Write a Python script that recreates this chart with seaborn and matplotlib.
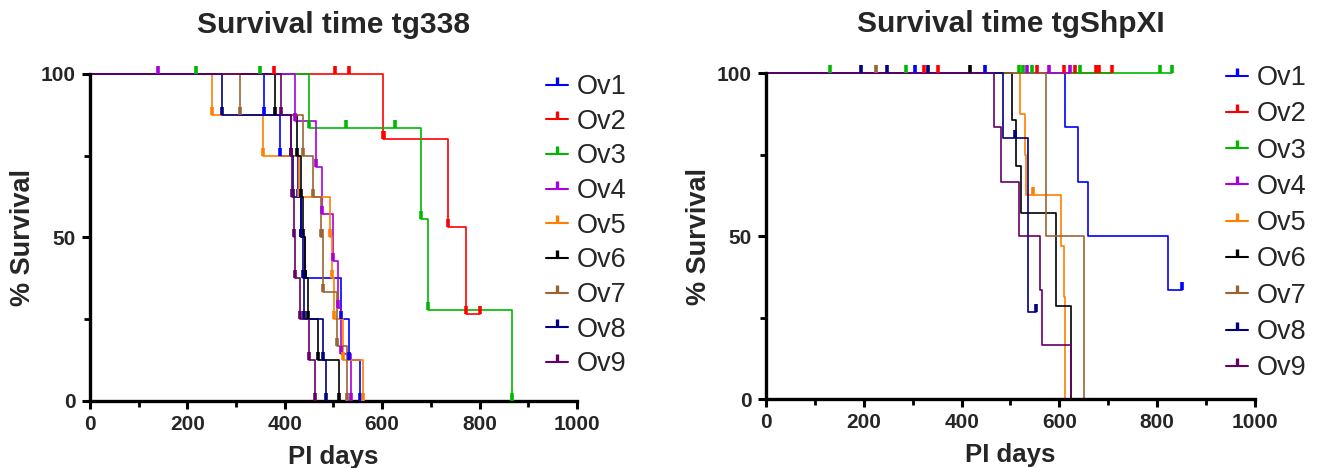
import numpy as np
import pandas as pd
import matplotlib
matplotlib.use("Agg")
import matplotlib.pyplot as plt
from matplotlib.lines import Line2D
import seaborn as sns

# ---------------- data ----------------
SERIES = ["Ov1", "Ov2", "Ov3", "Ov4", "Ov5", "Ov6", "Ov7", "Ov8", "Ov9"]
COLORS = ["#0000FF", "#FF0000", "#00B800", "#AA00DD", "#FF8000",
          "#000000", "#996633", "#000080", "#660066"]

# tg338 : death times (days) and censored times (days) per series
tg338_events = [
    [358, 391, 428, 434, 441, 515, 532, 554],
    [602, 736, 773],
    [450, 680, 695, 866],
    [422, 464, 477, 500, 510, 515, 537],
    [250, 356, 430, 493, 497, 502, 519, 561],
    [379, 425, 433, 438, 442, 448, 469, 512],
    [308, 437, 457, 474, 478, 508, 527],
    [271, 412, 416, 433, 437, 440, 478, 485],
    [392, 412, 414, 418, 422, 431, 450, 462],
]
tg338_censored = [
    [],
    [378, 504, 531, 603, 800],
    [217, 349, 526, 626],
    [140],
    [],
    [],
    [476],
    [],
    [],
]

# tgShpXI
shp_events = [
    [611, 638, 659, 822],
    [],
    [],
    [],
    [520, 529, 532, 604, 609, 611, 611],
    [504, 512, 522, 594, 594, 624, 624],
    [572, 650],
    [485, 535, 535],
    [466, 481, 518, 561, 565, 624],
]
shp_censored = [
    [305, 448, 850, 850],
    [323, 351, 554, 609, 631, 675, 681, 707],
    [131, 286, 518, 526, 545, 643, 805, 830],
    [533, 578, 622],
    [546],
    [418],
    [224],
    [195, 247, 332, 510, 553],
    [],
]

TITLES = ["Survival time tg338", "Survival time tgShpXI"]
XTICKS = [0, 200, 400, 600, 800, 1000]
YTICKS = [0, 50, 100]


def km(events, cens, event_marks):
    times = sorted(set(events) | set(cens))
    at_risk = len(events) + len(cens)
    s = 100.0
    tt, ss, marks = [0.0], [100.0], []
    for t in times:
        d = events.count(t)
        c = cens.count(t)
        if d:
            s = s * (1 - d / at_risk)
            tt.append(t)
            ss.append(s)
            if event_marks:
                marks.append((t, s))
        if c:
            marks.append((t, s))
        at_risk -= d + c
    if times and tt[-1] != times[-1]:
        tt.append(times[-1])
        ss.append(s)
    return tt, ss, marks


sns.set_theme(style="ticks")
plt.rcParams["font.family"] = ["Liberation Sans", "DejaVu Sans"]

fig = plt.figure(figsize=(13.17, 4.68), dpi=100)
ax1 = fig.add_axes([0.0683, 0.1432, 0.3698, 0.6987])
ax2 = fig.add_axes([0.5816, 0.1474, 0.3713, 0.6966])

panels = [
    (ax1, tg338_events, tg338_censored, True),
    (ax2, shp_events, shp_censored, False),
]

for k, (ax, evs, cns, emarks) in enumerate(panels):
    rows = []
    allmarks = []
    for name, e, c in zip(SERIES, evs, cns):
        tt, ss, mk = km(e, c, emarks)
        for a, b in zip(tt, ss):
            rows.append((name, a, b))
        allmarks.append(mk)
    df = pd.DataFrame(rows, columns=["series", "t", "s"])
    sns.lineplot(data=df, x="t", y="s", hue="series", hue_order=SERIES,
                 palette=COLORS, estimator=None, sort=False,
                 drawstyle="steps-post", linewidth=1.2, legend=False,
                 ax=ax, clip_on=False)
    for mk, col in zip(allmarks, COLORS):
        if mk:
            xs, ys = zip(*mk)
            ax.plot(xs, ys, linestyle="none", marker=2, markersize=6,
                    markeredgewidth=2.6, color=col, clip_on=False, zorder=5)

    ax.set_xlim(0, 1000)
    ax.set_ylim(0, 100)
    ax.set_xticks(XTICKS)
    ax.set_xticks([100, 300, 500, 700, 900], minor=True)
    ax.set_yticks(YTICKS)
    ax.set_yticks([25, 75], minor=True)
    for sp in ["top", "right"]:
        ax.spines[sp].set_visible(False)
    for sp in ["left", "bottom"]:
        ax.spines[sp].set_linewidth(2.4)
        ax.spines[sp].set_color("black")
    ax.tick_params(axis="both", which="major", length=6, width=2.2,
                   labelsize=15, color="black", pad=4)
    ax.tick_params(axis="both", which="minor", length=4, width=2.0,
                   color="black")
    for lab in ax.get_xticklabels() + ax.get_yticklabels():
        lab.set_fontweight("bold")
    ax.set_xlabel("PI days", fontsize=18.5, fontweight="bold", labelpad=8)
    ax.set_ylabel("% Survival", fontsize=19.5, fontweight="bold", labelpad=4)
    ax.text(0.5, 1.15, TITLES[k], transform=ax.transAxes, ha="center",
            va="center", fontsize=21.5, fontweight="bold")
    ax.grid(False)

    handles = [Line2D([0], [0], color=c, lw=1.5, marker=2, markersize=6,
                      markeredgewidth=2.4) for c in COLORS]
    if k == 0:
        anchor = (546 / 1317, 1 - 74 / 468)
        lsp = 0.32
    else:
        anchor = (1226 / 1317, 1 - 65 / 468)
        lsp = 0.38
    fig.legend(handles, SERIES, loc="upper left", bbox_to_anchor=anchor,
               bbox_transform=fig.transFigure, frameon=False, fontsize=19.5,
               handlelength=0.8, handletextpad=0.35, labelspacing=lsp,
               borderaxespad=0, borderpad=0)

fig.savefig("out.png", dpi=100)
